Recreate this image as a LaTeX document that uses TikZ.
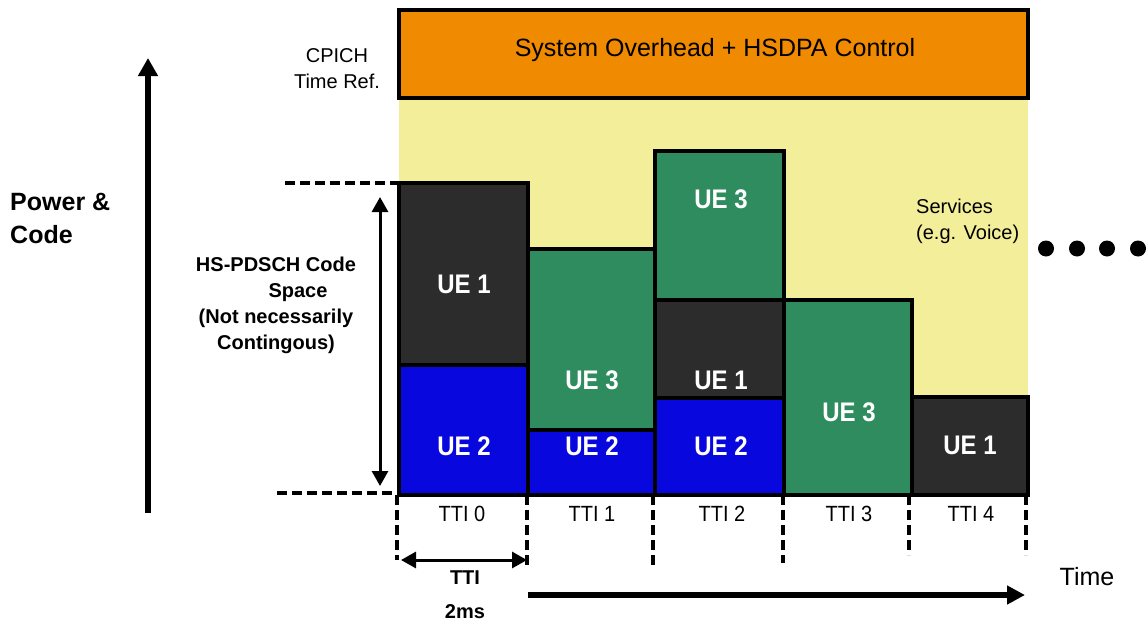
\documentclass[tikz,border=0pt]{standalone}
\usepackage{fontspec}
\setmainfont{Liberation Sans}
\usetikzlibrary{arrows.meta}
\definecolor{ovhOrange}{RGB}{240,138,0}
\definecolor{svcYellow}{RGB}{243,238,154}
\definecolor{ueDark}{RGB}{44,44,44}
\definecolor{ueBlue}{RGB}{8,8,222}
\definecolor{ueGreen}{RGB}{46,140,94}
% slightly taller glyphs for the bar and slot labels
\newcommand{\tallA}[1]{\scalebox{1}[1.12]{#1}}
\newcommand{\tallB}[1]{\scalebox{1}[1.1]{#1}}
\begin{document}
\begin{tikzpicture}[x=1pt,y=-1pt,
  bar/.style={draw=black,line width=3.5pt},
  uelab/.style={text=white,inner sep=0pt,font=\fontsize{24}{28}\selectfont\bfseries},
  plainlab/.style={inner sep=0pt,font=\fontsize{20}{26}\selectfont},
  boldlab/.style={inner sep=0pt,font=\fontsize{20}{26}\selectfont\bfseries},
  guide/.style={line width=3.3pt,dash pattern=on 10pt off 5pt},
  thinarrow/.style={line width=3pt,{Triangle[length=15pt,width=16pt]}-{Triangle[length=15pt,width=16pt]}},
  bigarrow/.style={line width=6pt,-{Triangle[length=18pt,width=19pt]}}]
\useasboundingbox (0,0) rectangle (1147,624);

% services background and control channel band
\fill[svcYellow] (399,98) rectangle (1028,495);
\draw[bar,fill=ovhOrange] (399,10) rectangle (1028,98);
\node[inner sep=0pt,font=\fontsize{25}{30}\selectfont] (ovh) at (715,50) {System Overhead + HSDPA Control};

% scheduled UEs per TTI
\draw[bar,fill=ueDark]  (399,183) rectangle (528,365);
\draw[bar,fill=ueBlue]  (399,365) rectangle (528,495);
\draw[bar,fill=ueGreen] (528,249) rectangle (655,430);
\draw[bar,fill=ueBlue]  (528,430) rectangle (655,495);
\draw[bar,fill=ueGreen] (655,151) rectangle (784,300);
\draw[bar,fill=ueDark]  (655,300) rectangle (784,398);
\draw[bar,fill=ueBlue]  (655,398) rectangle (784,495);
\draw[bar,fill=ueGreen] (784,300) rectangle (912,495);
\draw[bar,fill=ueDark]  (912,397) rectangle (1028,495);

\node[uelab] (t0a) at (464,284) {\tallA{UE 1}};
\node[uelab] (t0b) at (464,446) {\tallA{UE 2}};
\node[uelab] (t1a) at (592,380) {\tallA{UE 3}};
\node[uelab] (t1b) at (592,446) {\tallA{UE 2}};
\node[uelab] (t2a) at (721,199) {\tallA{UE 3}};
\node[uelab] (t2b) at (721,380) {\tallA{UE 1}};
\node[uelab] (t2c) at (721,446) {\tallA{UE 2}};
\node[uelab] (t3a) at (849,412) {\tallA{UE 3}};
\node[uelab] (t4a) at (970,445) {\tallA{UE 1}};

% TTI labels and boundaries
\node[plainlab] (tti0) at (462,514) {\tallB{TTI 0}};
\node[plainlab] (tti1) at (592,514) {\tallB{TTI 1}};
\node[plainlab] (tti2) at (722,514) {\tallB{TTI 2}};
\node[plainlab] (tti3) at (849,514) {\tallB{TTI 3}};
\node[plainlab] (tti4) at (971,514) {\tallB{TTI 4}};

\coordinate (b0t) at (397,495);  \coordinate (b0b) at (397,560);
\coordinate (b1t) at (527,495);  \coordinate (b1b) at (527,568);
\coordinate (b2t) at (653,495);  \coordinate (b2b) at (653,565);
\coordinate (b3t) at (783,495);  \coordinate (b3b) at (783,563);
\coordinate (b4t) at (909,495);  \coordinate (b4b) at (909,555);
\coordinate (b5t) at (1026,495); \coordinate (b5b) at (1026,555);
\foreach \i in {0,...,5} \draw[guide] (b\i t) -- (b\i b);

% code space extent
\coordinate (hTopL) at (285,183); \coordinate (hTopR) at (399,183);
\coordinate (hBotL) at (277,493); \coordinate (hBotR) at (397,493);
\draw[guide] (hTopL) -- (hTopR);
\draw[guide] (hBotL) -- (hBotR);
\coordinate (codeTop) at (380,197);
\coordinate (codeBot) at (380,486);
\draw[thinarrow] (codeBot) -- (codeTop);
\node[boldlab,align=center] (code) at (276,305)
  {HS-PDSCH Code\\\hspace*{44pt}Space\\(Not necessarily\\Contingous)};

% power axis
\coordinate (axisBot) at (148,513);
\coordinate (axisTop) at (148,58);
\draw[bigarrow] (axisBot) -- (axisTop);
\node[inner sep=0pt,anchor=west,align=left,font=\fontsize{25}{33}\selectfont\bfseries] (power) at (10,218) {Power \&\\Code};

\node[plainlab,align=center] (cpich) at (337,69) {CPICH\\Time Ref.};
\node[plainlab,align=left,anchor=west] (svc) at (916,221) {Services\\(e.g. Voice)};

% continuation dots
\foreach \x/\n in {1046/1,1077/2,1107/3,1138/4}
  \fill (\x,248.5) circle[radius=8] coordinate (dot\n);

% TTI duration
\coordinate (ttiL) at (401,560);
\coordinate (ttiR) at (527,560);
\draw[thinarrow] (ttiL) -- (ttiR);
\node[boldlab] (ttiname) at (465,578) {TTI};
\node[boldlab] (ttims) at (465,612) {2ms};

% time axis
\coordinate (timeStart) at (528,595);
\coordinate (timeEnd) at (1025,595);
\draw[line width=6pt,-{Triangle[length=18pt,width=18pt]}] (timeStart) -- (timeEnd);
\node[inner sep=0pt,font=\fontsize{25}{30}\selectfont] (time) at (1087,577) {Time};
\end{tikzpicture}
\end{document}
